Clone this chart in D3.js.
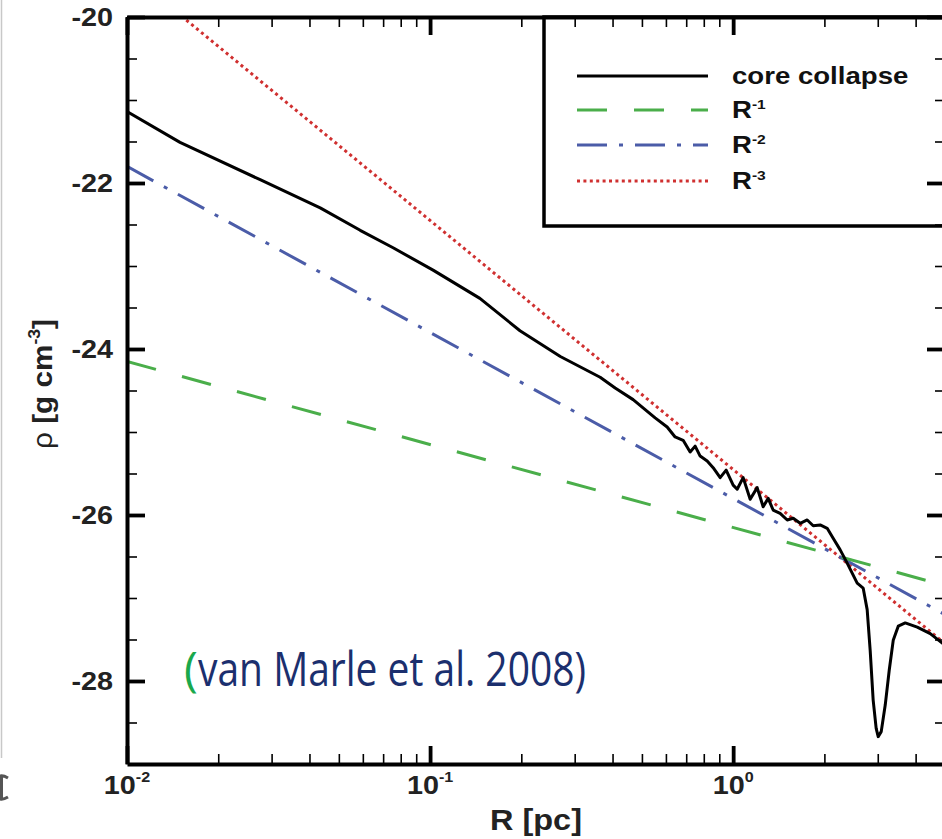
<!DOCTYPE html>
<html><head><meta charset="utf-8">
<script src="https://cdn.jsdelivr.net/npm/d3@7"></script>
<style>body{margin:0;background:#fff;overflow:hidden} svg{display:block}</style>
</head><body>
<svg id="c" width="942" height="839"></svg>
<script>
// ---------- data ----------
const xDomain = [0.01, 5];
const yDomain = [-29, -20];
const yMajorTicks = [-28, -26, -24, -22, -20];
const yTickLabels = ["-28", "-26", "-24", "-22", "-20"];
const xMajorTicks = [0.01, 0.1, 1];
const xTickBase = ["10", "10", "10"];
const xTickExponents = ["-2", "-1", "0"];
const legendNames = ["core collapse", "R", "R", "R"];
const legendExponents = ["", "-1", "-2", "-3"];

// core collapse density profile
const coreR = [0.0100, 0.01496, 0.0275, 0.0434, 0.0588, 0.0755, 0.1023, 0.146, 0.198, 0.269,
  0.364, 0.408, 0.4677, 0.5125, 0.5528, 0.6056, 0.6434, 0.6839, 0.7212, 0.7491, 0.7782,
  0.8209, 0.859, 0.906, 0.9482, 1.0, 1.031, 1.079, 1.138, 1.200, 1.256, 1.305, 1.355,
  1.429, 1.508, 1.578, 1.664, 1.755, 1.837, 1.937, 2.043, 2.138, 2.255, 2.378, 2.566,
  2.685, 2.768, 2.832, 2.897, 2.964, 3.010, 3.080, 3.175, 3.273, 3.374, 3.505, 3.696,
  4.049, 4.470, 5.0];
const coreRho = [-21.14, -21.51, -21.96, -22.30, -22.57, -22.78, -23.05, -23.39, -23.78, -24.09,
  -24.34, -24.47, -24.61, -24.73, -24.83, -24.94, -25.06, -25.10, -25.24, -25.17, -25.29,
  -25.35, -25.43, -25.55, -25.46, -25.64, -25.69, -25.55, -25.81, -25.67, -25.90, -25.80, -25.94,
  -25.98, -26.06, -26.04, -26.10, -26.06, -26.13, -26.12, -26.16, -26.28, -26.42, -26.58, -26.82,
  -26.88, -27.14, -27.63, -28.23, -28.57, -28.67, -28.61, -28.29, -27.87, -27.51, -27.34, -27.30,
  -27.35, -27.43, -27.57];
// power-law reference lines (end points)
const r1R = [0.01, 5], r1Rho = [-24.15, -26.85];
const r2R = [0.01, 5], r2Rho = [-21.80, -27.20];
const r3R = [0.01, 5], r3Rho = [-19.45, -27.55];

const citeOpen = "(";
const citeText = "van Marle et al. 2008)";

// ---------- layout ----------
const svg = d3.select("#c");
const L = 127, R = 945, T = 17, B = 764;
const x = d3.scaleLog().domain(xDomain).range([L, R]);
const y = d3.scaleLinear().domain(yDomain).range([B, T]);
const FONT = "'Liberation Sans', Arial, Helvetica, sans-serif";
const SX = 1.15;

svg.append("defs").append("clipPath").attr("id", "plot")
  .append("rect").attr("x", L).attr("y", T).attr("width", R - L).attr("height", B - T);

// left cropping artefacts (edge of a neighbouring figure)
svg.append("line").attr("x1", 1.5).attr("x2", 1.5).attr("y1", 0).attr("y2", 758)
  .attr("stroke", "#c8c8c8").attr("stroke-width", 1.5);
svg.append("path").attr("d", "M0,776 Q3,775 8,778 M1.5,776 L1.5,799 M0,799 Q3,800 8,797")
  .attr("fill", "none").attr("stroke", "#555").attr("stroke-width", 3);

const line = d3.line().x(d => x(d[0])).y(d => y(d[1]));
const gData = svg.append("g").attr("clip-path", "url(#plot)");

const styles = [
  {color: "#000", dash: null, w: 3},
  {color: "#4aae4a", dash: "30,27", w: 3},
  {color: "#4b5ca8", dash: "30,12,4,12", w: 3},
  {color: "#d03030", dash: "3,3.4", w: 3}
];
const series = [
  d3.zip(coreR, coreRho), d3.zip(r1R, r1Rho), d3.zip(r2R, r2Rho), d3.zip(r3R, r3Rho)
];
[3, 2, 1, 0].forEach(i => {
  gData.append("path").datum(series[i]).attr("d", line)
    .attr("fill", "none").attr("stroke", styles[i].color)
    .attr("stroke-width", styles[i].w)
    .attr("stroke-dasharray", styles[i].dash)
    .attr("stroke-linejoin", "round");
});

// legend
const lg = svg.append("g");
lg.append("rect").attr("x", 544).attr("y", T).attr("width", 430).attr("height", 209)
  .attr("fill", "#fff").attr("stroke", "#000").attr("stroke-width", 3.5);
const legY = [76, 110, 145, 181];
legendNames.forEach((n, i) => {
  lg.append("line").attr("x1", 577).attr("x2", 708).attr("y1", legY[i]).attr("y2", legY[i])
    .attr("stroke", styles[i].color).attr("stroke-width", 3.2)
    .attr("stroke-dasharray", styles[i].dash);
  const t = lg.append("g").attr("transform", `translate(732,${legY[i] + 7.5}) scale(1.2,1)`)
    .append("text").attr("font-family", FONT).attr("font-weight", "bold")
    .attr("font-size", 23).attr("fill", "#111");
  t.append("tspan").text(n);
  if (legendExponents[i]) t.append("tspan").attr("font-size", 13).attr("dy", -9).text(legendExponents[i]);
});

// axes (ticks inward)
function styleAx(g, w) {
  g.selectAll("line").attr("stroke", "#000").attr("stroke-width", w);
  g.selectAll("text").remove();
}
const yMinor = d3.range(-29, -19.9, 0.5).filter(v => !yMajorTicks.includes(v) && v > -29);
const xAll = x.ticks(30).filter(v => v > xDomain[0] && v < xDomain[1]);
const xMinor = xAll.filter(v => !xMajorTicks.some(m => Math.abs(m - v) < 1e-9));

// left
svg.append("g").attr("transform", `translate(${L},0)`)
  .call(d3.axisRight(y).tickValues(yMinor).tickSize(10).tickSizeOuter(0).tickFormat(""))
  .call(g => { styleAx(g, 1.6); g.select(".domain").remove(); });
svg.append("g").attr("transform", `translate(${L},0)`)
  .call(d3.axisRight(y).tickValues(yMajorTicks).tickSize(18).tickSizeOuter(0).tickFormat(""))
  .call(g => { styleAx(g, 3.8); g.select(".domain").attr("stroke", "#000").attr("stroke-width", 4); });
// right
svg.append("g").attr("transform", `translate(${R},0)`)
  .call(d3.axisLeft(y).tickValues(yMinor).tickSize(10).tickSizeOuter(0).tickFormat(""))
  .call(g => { styleAx(g, 1.6); g.select(".domain").remove(); });
svg.append("g").attr("transform", `translate(${R},0)`)
  .call(d3.axisLeft(y).tickValues(yMajorTicks).tickSize(18).tickSizeOuter(0).tickFormat(""))
  .call(g => { styleAx(g, 3.8); g.select(".domain").attr("stroke", "#000").attr("stroke-width", 4); });
// bottom
svg.append("g").attr("transform", `translate(0,${B})`)
  .call(d3.axisTop(x).tickValues(xMinor).tickSize(10).tickSizeOuter(0).tickFormat(""))
  .call(g => { styleAx(g, 1.6); g.select(".domain").remove(); });
svg.append("g").attr("transform", `translate(0,${B})`)
  .call(d3.axisTop(x).tickValues(xMajorTicks).tickSize(18).tickSizeOuter(0).tickFormat(""))
  .call(g => { styleAx(g, 3.8); g.select(".domain").attr("stroke", "#000").attr("stroke-width", 4); });
// top
svg.append("g").attr("transform", `translate(0,${T})`)
  .call(d3.axisBottom(x).tickValues(xMinor).tickSize(10).tickSizeOuter(0).tickFormat(""))
  .call(g => { styleAx(g, 1.6); g.select(".domain").remove(); });
svg.append("g").attr("transform", `translate(0,${T})`)
  .call(d3.axisBottom(x).tickValues(xMajorTicks).tickSize(18).tickSizeOuter(0).tickFormat(""))
  .call(g => { styleAx(g, 3.8); g.select(".domain").attr("stroke", "#000").attr("stroke-width", 4); });

// tick labels
yMajorTicks.forEach((v, i) => {
  svg.append("g").attr("transform", `translate(113,${y(v) + 9}) scale(${SX},1)`)
    .append("text").attr("text-anchor", "end").attr("font-family", FONT)
    .attr("font-weight", "bold").attr("font-size", 25).attr("fill", "#222").text(yTickLabels[i]);
});
xMajorTicks.forEach((v, i) => {
  const t = svg.append("g").attr("transform", `translate(${x(v)},794) scale(${SX},1)`)
    .append("text").attr("text-anchor", "middle").attr("font-family", FONT)
    .attr("font-weight", "bold").attr("font-size", 25).attr("fill", "#222");
  t.append("tspan").text(xTickBase[i]);
  t.append("tspan").attr("font-size", 14).attr("dy", -12).text(xTickExponents[i]);
});

// axis titles
svg.append("g").attr("transform", `translate(${(L + R) / 2},830) scale(1.12,1)`)
  .append("text").attr("text-anchor", "middle").attr("font-family", FONT)
  .attr("font-weight", "bold").attr("font-size", 29).attr("fill", "#222").text("R [pc]");
const yt = svg.append("g").attr("transform", `translate(52,384) rotate(-90) scale(1.1,1)`)
  .append("text").attr("text-anchor", "middle").attr("font-family", FONT)
  .attr("font-size", 27).attr("fill", "#222");
yt.append("tspan").attr("font-weight", "normal").text("ρ ");
yt.append("tspan").attr("font-weight", "bold").text("[g cm");
yt.append("tspan").attr("font-weight", "bold").attr("font-size", 16).attr("dy", -12).text("-3");
yt.append("tspan").attr("font-weight", "bold").attr("dy", 12).text("]");

// citation
const CF = "'Open Sans', 'Noto Sans', sans-serif";
svg.append("text").attr("x", 184).attr("y", 686).attr("font-family", CF)
  .attr("font-size", 47).attr("fill", "#1aa84c").text(citeOpen);
svg.append("text").attr("x", 198).attr("y", 686).attr("font-family", CF)
  .attr("font-size", 47).attr("fill", "#1b2f6e")
  .attr("textLength", 388).attr("lengthAdjust", "spacingAndGlyphs").text(citeText);
</script>
</body></html>
